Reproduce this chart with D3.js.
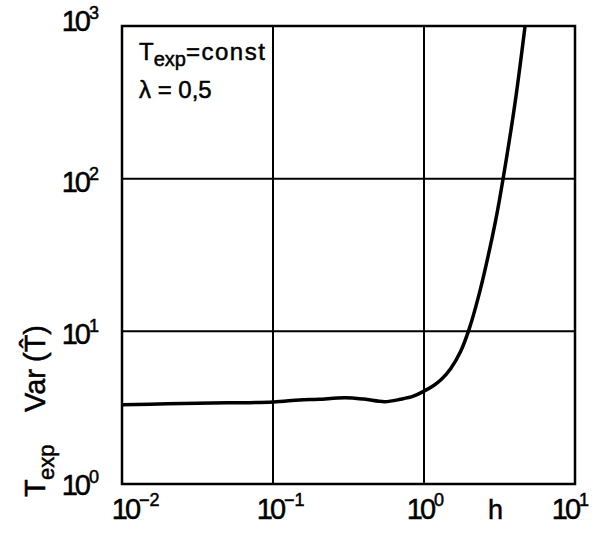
<!DOCTYPE html>
<html>
<head>
<meta charset="utf-8">
<script src="https://cdn.jsdelivr.net/npm/d3@7"></script>
<style>
  html, body { margin: 0; padding: 0; background: #fff; }
  svg { display: block; }
  text { font-family: "Liberation Sans", Arial, Helvetica, sans-serif; fill: #000; stroke: #000; stroke-width: 0.5; }
</style>
</head>
<body>
<svg id="chart" width="615" height="536"></svg>
<script>
// Step width h (log axis)
const hValues = [0.01, 0.02, 0.05, 0.1, 0.15, 0.2, 0.3, 0.4, 0.55, 0.7, 0.85, 1.0,
                 1.16, 1.3, 1.5, 1.75, 2.0, 2.3, 2.6, 3.0, 3.34, 4.0, 4.67];
// Normalised variance T_exp * Var(T^)
const varValues = [3.3, 3.35, 3.4, 3.45, 3.55, 3.59, 3.67, 3.6, 3.46, 3.59, 3.76, 4.06,
                   4.42, 4.83, 5.69, 7.41, 10.5, 17, 28.2, 55, 100, 309, 1000];

// Decade ticks and their exponents
const xTicks = [0.01, 0.1, 1, 10];
const xExponents = ["-2", "-1", "0", "1"];
const yTicks = [1, 10, 100, 1000];
const yExponents = ["0", "1", "2", "3"];

const svg = d3.select("#chart");
const plotLeft = 122, plotRight = 575, plotTop = 26, plotBottom = 484;

const x = d3.scaleLog().domain([0.01, 10]).range([plotLeft, plotRight]);
const y = d3.scaleLog().domain([1, 1000]).range([plotBottom, plotTop]);

// Grid lines at the inner decades
const grid = svg.append("g").attr("stroke", "#000").attr("stroke-width", 2);
grid.selectAll("line.gx")
  .data(xTicks.slice(1, -1))
  .join("line")
  .attr("x1", d => x(d)).attr("x2", d => x(d))
  .attr("y1", plotTop).attr("y2", plotBottom);
grid.selectAll("line.gy")
  .data(yTicks.slice(1, -1))
  .join("line")
  .attr("x1", plotLeft).attr("x2", plotRight)
  .attr("y1", d => y(d)).attr("y2", d => y(d));

// Frame
svg.append("rect")
  .attr("x", plotLeft).attr("y", plotTop)
  .attr("width", plotRight - plotLeft).attr("height", plotBottom - plotTop)
  .attr("fill", "none").attr("stroke", "#000").attr("stroke-width", 2.5);

// Curve, clipped to the plot box
svg.append("clipPath").attr("id", "plotClip")
  .append("rect")
  .attr("x", plotLeft).attr("y", plotTop)
  .attr("width", plotRight - plotLeft).attr("height", plotBottom - plotTop);

const points = hValues.map((h, i) => ({ h, v: varValues[i] }));
const line = d3.line()
  .x(d => x(d.h))
  .y(d => y(d.v))
  .curve(d3.curveCatmullRom.alpha(0.5));

svg.append("path")
  .datum(points)
  .attr("clip-path", "url(#plotClip)")
  .attr("fill", "none")
  .attr("stroke", "#000")
  .attr("stroke-width", 3.5)
  .attr("stroke-linejoin", "round")
  .attr("d", line);

// Tick labels: base "10" plus raised exponent
const baseSize = 29, supSize = 18;
const xLabelShift = [3, -3, -4, -10];
const yLabelShift = [0, 2, 2, -6];

const xl = svg.append("g");
xTicks.forEach((t, i) => {
  const cx = x(t) + xLabelShift[i];
  xl.append("text")
    .attr("x", cx).attr("y", 519)
    .attr("text-anchor", "middle")
    .attr("font-size", baseSize)
    .attr("letter-spacing", -3)
    .text("10");
  xl.append("text")
    .attr("x", cx + 14).attr("y", 506)
    .attr("font-size", supSize)
    .text(xExponents[i].replace("-", "\u2212"));
});

// Axis name for h
svg.append("text")
  .attr("x", 488).attr("y", 519)
  .attr("font-size", 27)
  .text("h");

const yl = svg.append("g");
yTicks.forEach((t, i) => {
  const cy = y(t) + yLabelShift[i];
  yl.append("text")
    .attr("x", 88).attr("y", cy + 11)
    .attr("text-anchor", "end")
    .attr("font-size", baseSize)
    .attr("letter-spacing", -3)
    .text("10");
  yl.append("text")
    .attr("x", 89).attr("y", cy - 1)
    .attr("font-size", supSize)
    .text(yExponents[i]);
});

// Rotated y-axis title: T_exp Var(T^)
const yt = svg.append("g").attr("transform", "translate(45,0) rotate(-90)");
yt.append("text")
  .attr("x", -497).attr("y", 0)
  .attr("font-size", 29)
  .text("T");
yt.append("text")
  .attr("x", -480).attr("y", 9)
  .attr("font-size", 22)
  .text("exp");
yt.append("text")
  .attr("x", -412).attr("y", 0)
  .attr("font-size", 29)
  .text("Var");
yt.append("text")
  .attr("x", -362).attr("y", 0)
  .attr("font-size", 29)
  .text("(T\u0302)");

// Parameter note in the upper left
const note = svg.append("g");
const l1 = note.append("text").attr("x", 139).attr("y", 60).attr("font-size", 24);
l1.append("tspan").text("T");
l1.append("tspan").attr("dy", 6).attr("font-size", 20).text("exp");
l1.append("tspan").attr("dy", -6).attr("letter-spacing", 1.5).text("=const");
note.append("text")
  .attr("x", 139).attr("y", 98)
  .attr("font-size", 24)
  .text("\u03bb = 0,5");
</script>
</body>
</html>
